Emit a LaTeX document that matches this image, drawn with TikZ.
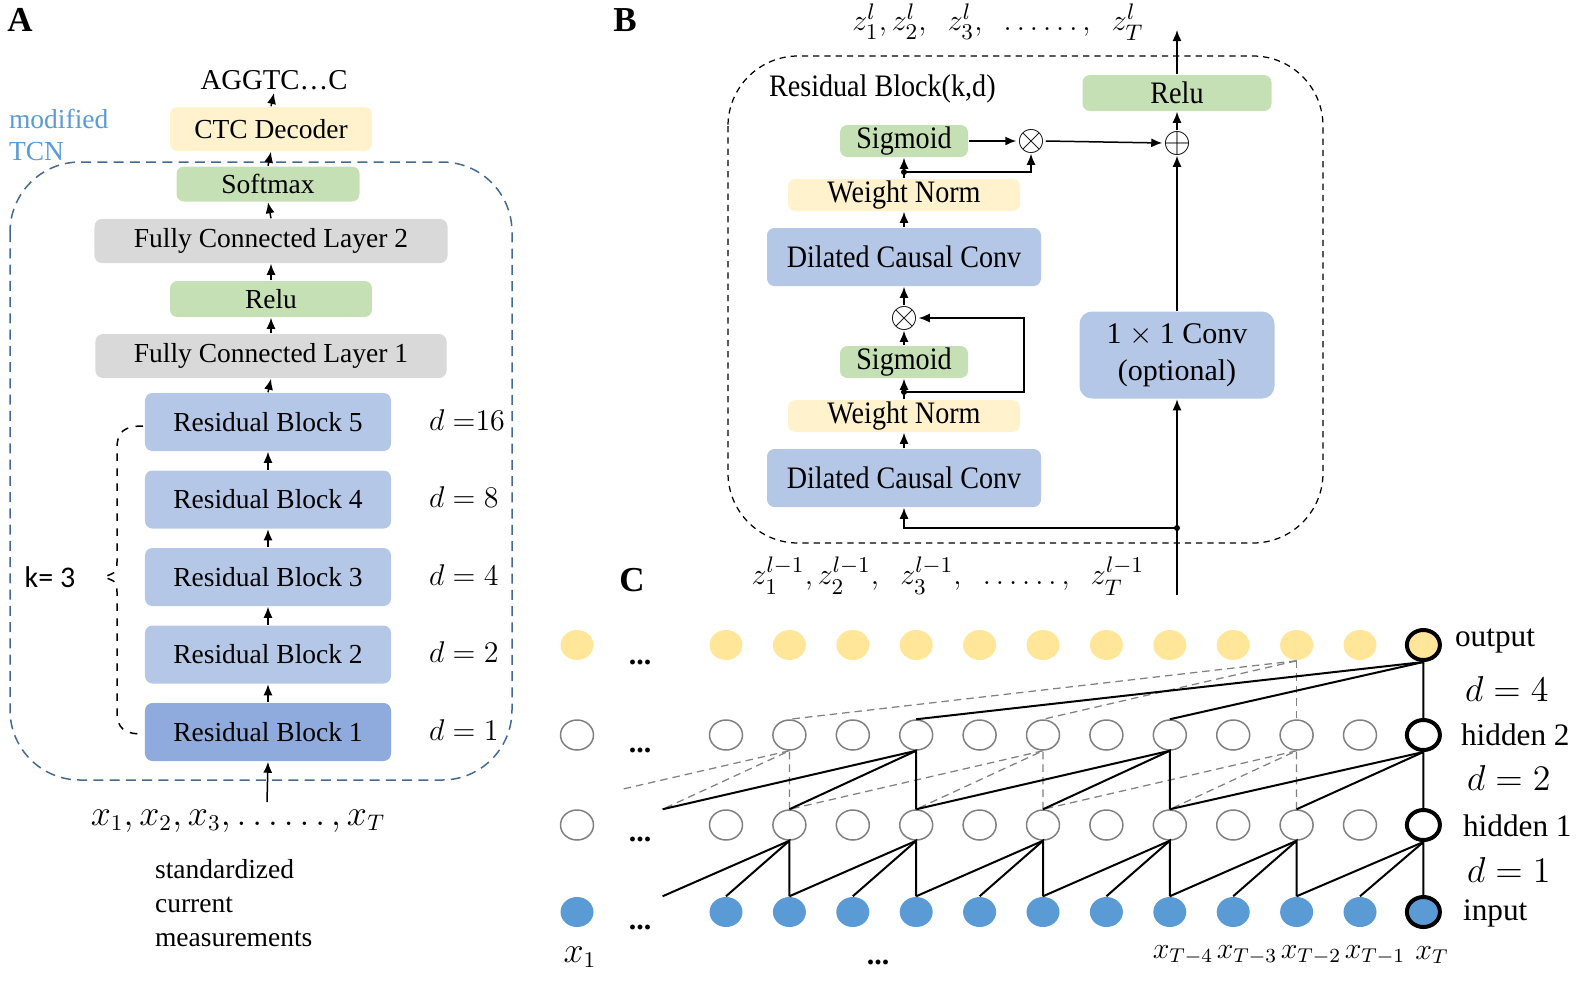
\documentclass[tikz,border=0pt]{standalone}
\usepackage{amsmath,amssymb}
\usepackage{fontspec}
\setmainfont{Liberation Serif}
\setsansfont{Carlito}
\newfontfamily\narrowserif{Liberation Serif}[FakeStretch=0.9]
\usepackage{xcolor}
\usetikzlibrary{shapes.geometric,arrows.meta}
\definecolor{boxblue}{RGB}{180,199,231}
\definecolor{boxbluedark}{RGB}{143,170,220}
\definecolor{boxgreen}{RGB}{197,224,180}
\definecolor{boxyellow}{RGB}{255,242,204}
\definecolor{boxgray}{RGB}{217,217,217}
\definecolor{tcnline}{RGB}{68,106,146}
\definecolor{tcntext}{RGB}{91,155,213}
\definecolor{dotyellow}{RGB}{255,230,153}
\definecolor{dotblue}{RGB}{91,155,213}
\newcommand{\txt}{\fontsize{11}{13}\selectfont}
\newcommand{\txtb}{\narrowserif\fontsize{12.5}{14}\selectfont}
\newcommand{\txtc}{\fontsize{12}{14}\selectfont}
\newcommand{\txtm}{\fontsize{13.5}{15}\selectfont}

\begin{document}
\begin{tikzpicture}[>={Latex[length=4.4pt,width=3.6pt]}, x=0.4pt, y=-0.4pt, line width=0.6pt,
    layer/.style={rounded corners=3pt, inner sep=0pt, align=center, font=\txt},
    blayer/.style={layer, font=\txtb},
    rblock/.style={layer, fill=boxblue, minimum width=98.4pt, minimum height=23.2pt},
    panel/.style={font=\bfseries\fontsize{14}{16}\selectfont},
    dlab/.style={anchor=west, font=\txtc},
    gate/.style={inner sep=0pt, font=\fontsize{15}{15}\selectfont},
    conn/.style={line width=0.8pt},
    rf/.style={gray, line width=0.5pt, dash pattern=on 3pt off 2pt},
    unit/.style={ellipse, inner sep=0pt, minimum width=13.2pt, minimum height=12pt},
    ydot/.style={unit, fill=dotyellow},
    hdot/.style={unit, draw=gray, line width=0.6pt, fill=white},
    bdot/.style={unit, fill=dotblue},
    last/.style={draw=black, line width=1.6pt},
    ghost/.style={unit}]
    \useasboundingbox (0,0) rectangle (1594,995);

    % ---------------- A
    \node[panel] (labA) at (20,20) {A};
    \node[font=\fontsize{11.5}{13}\selectfont, inner sep=1pt] (seq) at (274,80) {AGGTC\ldots C};
    \node[layer, fill=boxyellow, minimum width=80.8pt, minimum height=17.6pt] (ctc) at (271,129) {CTC Decoder};
    \node[anchor=west, align=left, text=tcntext, font=\fontsize{11}{12.8}\selectfont] (tcn) at (0,135) {modified\\TCN};
    \draw[tcnline, dash pattern=on 4pt off 2.5pt, rounded corners=28pt] (10,162) rectangle (512,780);
    \node[layer, fill=boxgreen, minimum width=73.2pt, minimum height=14pt] (softmax) at (268,184) {Softmax};
    \node[layer, fill=boxgray, minimum width=141.2pt, minimum height=17.6pt] (fc2) at (271,241) {Fully Connected Layer 2};
    \node[layer, fill=boxgreen, minimum width=80.8pt, minimum height=14.4pt] (reluA) at (271,299) {Relu};
    \node[layer, fill=boxgray, minimum width=140.4pt, minimum height=17.6pt] (fc1) at (271,356) {Fully Connected Layer 1};
    \node[rblock] (rb5) at (268,422) {Residual Block 5};
    \node[rblock] (rb4) at (268,499.5) {Residual Block 4};
    \node[rblock] (rb3) at (268,577) {Residual Block 3};
    \node[rblock] (rb2) at (268,654.5) {Residual Block 2};
    \node[rblock, fill=boxbluedark] (rb1) at (268,732) {Residual Block 1};
    \node[dlab] at (420,420) {$d\;{=}16$};
    \node[dlab] at (420,497.5) {$d = 8$};
    \node[dlab] at (420,575) {$d = 4$};
    \node[dlab] at (420,652.5) {$d = 2$};
    \node[dlab] at (420,730) {$d = 1$};
    \draw[->] (ctc.north) -- (seq.south);
    \draw[->] (softmax.north) -- (ctc.south);
    \draw[->] (fc2.north) -- (softmax.south);
    \draw[->] (reluA.north) -- (fc2.south);
    \draw[->] (fc1.north) -- (reluA.south);
    \draw[->] (rb5.north) -- (fc1.south);
    \draw[->] (rb4.north) -- (rb5.south);
    \draw[->] (rb3.north) -- (rb4.south);
    \draw[->] (rb2.north) -- (rb3.south);
    \draw[->] (rb1.north) -- (rb2.south);
    \draw[dashed] (143,426) .. controls (124,426) and (117,432) .. (117,448)
      -- (117,562) .. controls (117,572) .. (104,577) .. controls (117,582) .. (117,592)
      -- (117,712) .. controls (117,728) and (124,734) .. (143,734);
    \node[font=\sffamily\fontsize{12}{14}\selectfont] (kk) at (50,577) {k= 3};
    \coordinate (ain) at (267,802);
    \draw[->] (ain) -- (rb1.south);
    \node[font=\txtm] (xseq) at (238,821) {$x_1, x_2, x_3,\ldots\ldots, x_T$};
    \node[anchor=north west, align=left, font=\fontsize{11}{13.6}\selectfont] (meas) at (146,850) {standardized\\current\\measurements};

    % ---------------- B
    \node[panel] (labB) at (625,20) {B};
    \node[font=\fontsize{13}{15}\selectfont] (zout) at (998,22) {$z_1^l, z_2^l,\ \ z_3^l,\ \ \ldots\ldots,\ \ z_T^l$};
    \draw[dash pattern=on 2.5pt off 2pt, line width=0.5pt, rounded corners=28pt] (728,56) rectangle (1323,543);
    \node[anchor=west, font=\txtb] (rbk) at (760,89) {Residual Block(k,d)};
    \node[blayer, fill=boxgreen, minimum width=51.2pt, minimum height=12.8pt] (sig2) at (904,141) {Sigmoid};
    \node[gate] (mul2) at (1031,141) {$\otimes$};
    \node[blayer, fill=boxyellow, minimum width=92.8pt, minimum height=12.8pt] (wn2) at (904,195) {Weight Norm};
    \node[blayer, fill=boxblue, minimum width=109.6pt, minimum height=23.2pt] (dcc2) at (904,257) {Dilated Causal Conv};
    \node[gate] (mul1) at (904,318) {$\otimes$};
    \node[blayer, fill=boxgreen, minimum width=51.2pt, minimum height=12.8pt] (sig1) at (904,362) {Sigmoid};
    \node[blayer, fill=boxyellow, minimum width=92.8pt, minimum height=12.8pt] (wn1) at (904,416) {Weight Norm};
    \node[blayer, fill=boxblue, minimum width=109.6pt, minimum height=23.2pt] (dcc1) at (904,478) {Dilated Causal Conv};
    \node[blayer, fill=boxgreen, minimum width=75.6pt, minimum height=14.4pt] (reluB) at (1177,93) {Relu};
    \node[gate] (add) at (1177,143) {$\oplus$};
    \node[layer, font=\fontsize{12}{15}\selectfont, fill=boxblue, minimum width=78pt, minimum height=34.8pt, rounded corners=5pt] (conv) at (1177,355) {1 $\times$ 1 Conv\\(optional)};
    \node[font=\fontsize{13}{15}\selectfont] (zin) at (948,576) {$z_1^{l-1}, z_2^{l-1},\ \ z_3^{l-1},\ \ \ldots\ldots,\ \ z_T^{l-1}$};
    \coordinate (ztop) at (1177,30);
    \coordinate (zbot) at (1177,595);
    \coordinate (split) at (1177,528);
    \coordinate (fork1) at (904,392);
    \coordinate (bend1) at (1024,318);
    \coordinate (fork2) at (904,172);
    \draw[->] (zbot) -- (conv.south);
    \draw[->] (split) -| (dcc1.south);
    \fill (split) circle (1.2pt);
    \draw[->] (dcc1.north) -- (wn1.south);
    \draw[->] (wn1.north) -- (sig1.south);
    \draw[->] (fork1) -| (bend1) -- (mul1.east);
    \fill (fork1) circle (1.2pt);
    \draw[->] (sig1.north) -- (mul1.south);
    \draw[->] (mul1.north) -- (dcc2.south);
    \draw[->] (dcc2.north) -- (wn2.south);
    \draw[->] (wn2.north) -- (sig2.south);
    \draw[->] (fork2) -| (mul2.south);
    \fill (fork2) circle (1.2pt);
    \draw[->] (sig2.east) -- (mul2.west);
    \draw[->] (mul2.east) -- (add.west);
    \draw[->] (conv.north) -- (add.south);
    \draw[->] (add.north) -- (reluB.south);
    \draw[->] (reluB.north) -- (ztop);

    % ---------------- C
    \node[panel] (labC) at (632,580) {C};
    \node[ydot] (outL) at (577,645) {};
    \node[hdot] (hbL) at (577,735) {};
    \node[hdot] (haL) at (577,825) {};
    \node[bdot] (inL) at (577,912) {};
    \foreach \k in {0,...,10} {
      \pgfmathsetmacro\cx{726+63.4*\k}
      \node[ydot] (out\k) at (\cx,645) {};
      \node[hdot] (hb\k) at (\cx,735) {};
      \node[hdot] (ha\k) at (\cx,825) {};
      \node[bdot] (in\k) at (\cx,912) {};
    }
    \node[ydot, last] (out11) at (1423.4,645) {};
    \node[hdot, last] (hb11) at (1423.4,735) {};
    \node[hdot, last] (ha11) at (1423.4,825) {};
    \node[bdot, last] (in11) at (1423.4,912) {};
    \node[ghost] (ha-1) at (662.6,825) {};
    \node[ghost] (in-1) at (662.6,912) {};
    \coordinate (rfcut) at (623,789);
    % receptive field of an earlier output
    \draw[rf] (out9.south) -- (hb9.north);
    \draw[rf] (out9.south) -- (hb5.north);
    \draw[rf] (out9.south) -- (hb1.north);
    \foreach \k in {5,9} {
      \pgfmathtruncatemacro\a{\k-2}
      \pgfmathtruncatemacro\b{\k-4}
      \draw[rf] (ha\k.north) -- (hb\k.south) -- (ha\a.north);
      \draw[rf] (hb\k.south) -- (ha\b.north);
    }
    \draw[rf] (ha1.north) -- (hb1.south) -- (ha-1.north);
    \draw[rf] (hb1.south) -- (rfcut);
    % receptive field of the last output
    \foreach \k in {1,3,...,11} {
      \pgfmathtruncatemacro\a{\k-1}
      \pgfmathtruncatemacro\b{\k-2}
      \draw[conn] (in\k.north) -- (ha\k.south) -- (in\a.north);
      \draw[conn] (ha\k.south) -- (in\b.north);
    }
    \foreach \k in {3,7,11} {
      \pgfmathtruncatemacro\a{\k-2}
      \pgfmathtruncatemacro\b{\k-4}
      \draw[conn] (ha\k.north) -- (hb\k.south) -- (ha\a.north);
      \draw[conn] (hb\k.south) -- (ha\b.north);
    }
    \draw[conn] (hb11.north) -- (out11.south) -- (hb7.north);
    \draw[conn] (out11.south) -- (hb3.north);
    \node[font=\txtc\bfseries] at (640,662) {...};
    \node[font=\txtc\bfseries] at (640,750) {...};
    \node[font=\txtc\bfseries] at (640,839) {...};
    \node[font=\txtc\bfseries] at (640,927) {...};
    \node[font=\txtc\bfseries] at (878,962) {...};
    \node[anchor=west, font=\fontsize{12.5}{14}\selectfont] (lout) at (1446,641) {output};
    \node[anchor=west, font=\fontsize{12.5}{14}\selectfont] (lhb) at (1452,735) {hidden 2};
    \node[anchor=west, font=\fontsize{12.5}{14}\selectfont] (lha) at (1454,826) {hidden 1};
    \node[anchor=west, font=\fontsize{12.5}{14}\selectfont] (lin) at (1454,913) {input};
    \node[anchor=west, font=\txtm] at (1456,689) {$d = 4$};
    \node[anchor=west, font=\txtm] at (1458,778) {$d = 2$};
    \node[anchor=west, font=\txtm] at (1458,870) {$d = 1$};
    \node[font=\txtm] at (580,957) {$x_1$};
    \node[font=\fontsize{12}{14}\selectfont, inner sep=0pt] at (1183,955) {$x_{T-4}$};
    \node[font=\fontsize{12}{14}\selectfont, inner sep=0pt] at (1247,955) {$x_{T-3}$};
    \node[font=\fontsize{12}{14}\selectfont, inner sep=0pt] at (1311,955) {$x_{T-2}$};
    \node[font=\fontsize{12}{14}\selectfont, inner sep=0pt] at (1375,955) {$x_{T-1}$};
    \node[font=\fontsize{12}{14}\selectfont, inner sep=0pt] at (1432,955) {$x_T$};
\end{tikzpicture}
\end{document}
